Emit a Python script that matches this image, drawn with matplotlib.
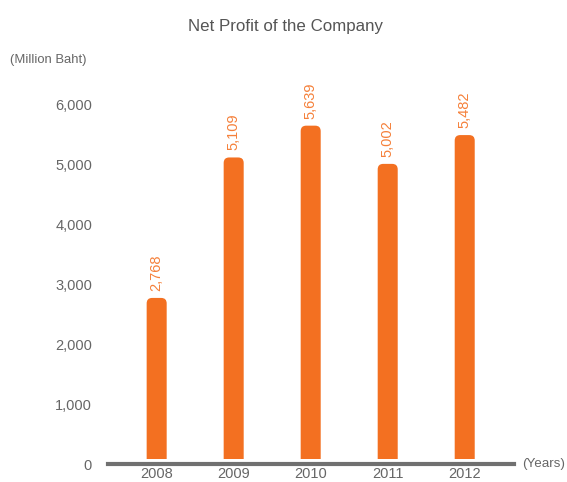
import matplotlib
matplotlib.use("Agg")
import matplotlib.pyplot as plt
from matplotlib.patches import FancyBboxPatch, Rectangle

years = ["2008", "2009", "2010", "2011", "2012"]
net_profit = [2768, 5109, 5639, 5002, 5482]
y_ticks = [0, 1000, 2000, 3000, 4000, 5000, 6000]

BAR_COLOR = "#F37021"
LABEL_COLOR = "#F5803A"
TEXT_COLOR = "#666666"

plt.rcParams["font.family"] = ["Liberation Sans", "DejaVu Sans"]

fig = plt.figure(figsize=(5.67, 4.82), dpi=100)
ax = fig.add_axes([108 / 567, 18 / 482, 406 / 567, 396 / 482])

ax.set_xlim(-0.632, 4.64)
ax.set_ylim(0, 6600)

bar_w = 0.26
px_x = 77.0            # pixels per x unit
px_y = 396 / 6600      # pixels per y unit
aspect = (1 / px_y) / (1 / px_x)
radius = 5.5 / px_x
base = 5 / px_y        # small gap between bar foot and baseline

# clip region: everything above the bar foot
clip = Rectangle((-1, base), 10, 10000, transform=ax.transData)

for i, v in enumerate(net_profit):
    bottom = -1000
    patch = FancyBboxPatch((i - bar_w / 2, bottom), bar_w, v - bottom,
                           boxstyle=f"round,pad=0,rounding_size={radius}",
                           mutation_aspect=aspect,
                           facecolor=BAR_COLOR, edgecolor="none", zorder=2)
    ax.add_patch(patch)
    patch.set_clip_path(clip)
    ax.text(i, v + 7 / px_y, f"{v:,}", rotation=90, ha="center", va="bottom",
            color=LABEL_COLOR, fontsize=10.5)

for s in ["top", "right", "left"]:
    ax.spines[s].set_visible(False)
ax.spines["bottom"].set_color("#707070")
ax.spines["bottom"].set_linewidth(3)
ax.spines["bottom"].set_zorder(3)

ax.set_xticks(range(len(years)))
ax.set_xticklabels(years)
ax.set_yticks(y_ticks)
ax.set_yticklabels([f"{t:,}" for t in y_ticks])
ax.tick_params(axis="both", length=0, colors=TEXT_COLOR, labelsize=10.5)
ax.tick_params(axis="y", pad=11.5)
ax.tick_params(axis="x", pad=2)

fig.text(285.5 / 567, 1 - 27 / 482, "Net Profit of the Company", ha="center",
         va="center", fontsize=12.2, color="#555555")
fig.text(10 / 567, 1 - 60 / 482, "(Million Baht)", ha="left", va="center",
         fontsize=9.4, color=TEXT_COLOR)
fig.text(522 / 567, 1 - 464 / 482, "(Years)", ha="left", va="center",
         fontsize=9.6, color=TEXT_COLOR)

fig.savefig("out.png", dpi=100)
